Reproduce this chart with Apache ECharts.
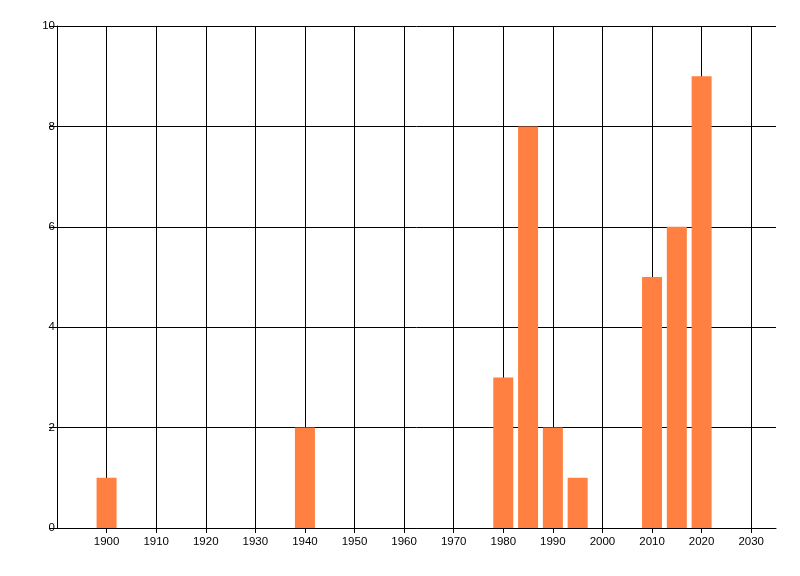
<!DOCTYPE html>
<html>
<head>
<meta charset="utf-8">
<script src="https://cdn.jsdelivr.net/npm/echarts@6/dist/echarts.min.js"></script>
<style>
    html, body {margin: 0; padding: 0; background: #fff;}
    #main {width: 800px; height: 576px;}
</style>
</head>
<body>
<div id="main"></div>
<script>
// years and counts
const years = [1900, 1940, 1980, 1985, 1990, 1995, 2010, 2015, 2020];
const counts = [1, 2, 3, 8, 2, 1, 5, 6, 9];

const xMin = 1890;
const xMax = 2035;

const chart = echarts.init(document.getElementById('main'));

const labelStyle = {
    color: '#000',
    fontFamily: 'Liberation Sans, Arial, sans-serif',
    fontSize: 11.5,
    formatter: v => String(v)   // no thousands separator on years
};

let option = {
    animation: false,
    grid: {left: 57, right: 24, top: 26, bottom: 48},
    xAxis: {
        type: 'value',
        min: xMin,
        max: xMax,
        interval: 10,
        axisLine: {show: true, onZero: false, lineStyle: {color: '#000', width: 1}},
        axisTick: {show: true, length: 5, lineStyle: {color: '#000'}},
        axisLabel: Object.assign({margin: 8, showMinLabel: false, showMaxLabel: false}, labelStyle),
        splitLine: {show: true, showMinLine: false, showMaxLine: false, lineStyle: {color: '#000', width: 1}}
    },
    yAxis: {
        type: 'value',
        min: 0,
        max: 10,
        interval: 2,
        axisLine: {show: true, lineStyle: {color: '#000', width: 1}},
        axisTick: {show: true, length: 8, lineStyle: {color: '#000'}},
        axisLabel: Object.assign({margin: 2}, labelStyle),
        splitLine: {show: true, lineStyle: {color: '#000', width: 1}}
    },
    series: [{
        type: 'bar',
        barWidth: 20,
        itemStyle: {color: '#ff8040'},
        data: years.map((y, i) => [y, counts[i]])
    }]
};
chart.setOption(option);
</script>
</body>
</html>
